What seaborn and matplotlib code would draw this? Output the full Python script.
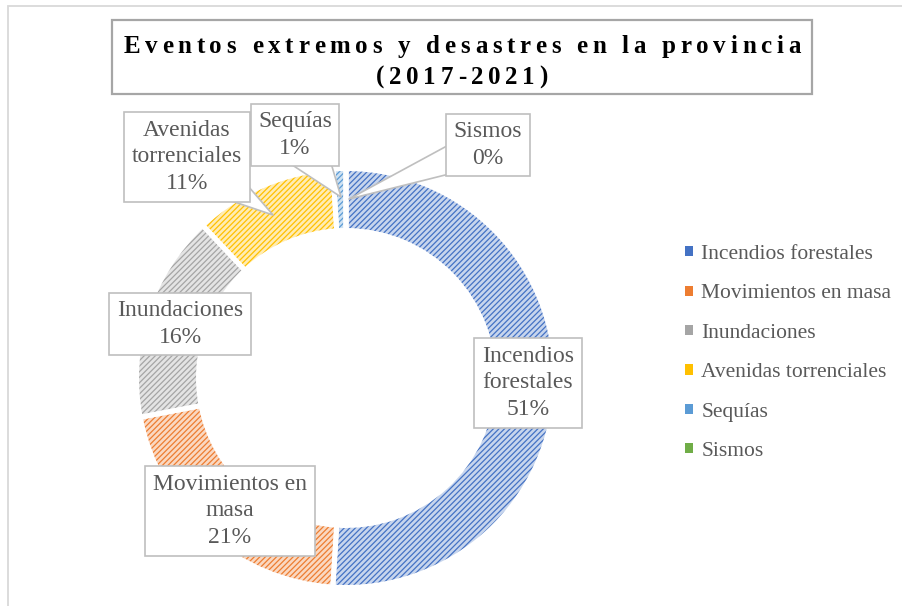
import numpy as np
import matplotlib
matplotlib.use("Agg")
import matplotlib.pyplot as plt
import seaborn as sns
from matplotlib.patches import Rectangle, Patch
from matplotlib.font_manager import FontProperties, findfont, get_font
from matplotlib.colors import to_rgb

# Data
categories = ["Incendios forestales", "Movimientos en masa", "Inundaciones",
              "Avenidas torrenciales", "Sequías", "Sismos"]
percentages = [51, 21, 16, 11, 1, 0]
label_names = ["Incendios\nforestales", "Movimientos en\nmasa", "Inundaciones",
               "Avenidas\ntorrenciales", "Sequías", "Sismos"]
title_lines = ["Eventos extremos y desastres en la provincia", "(2017-2021)"]

sns.set_theme(style="white")
plt.rcParams["font.family"] = ["Liberation Serif", "DejaVu Serif"]
plt.rcParams["hatch.linewidth"] = 0.9

palette = ["#4472C4", "#ED7D31", "#A5A5A5", "#FFC000", "#5B9BD5", "#70AD47"]
text_gray = "#595959"
box_gray = "#BFBFBF"

W, H = 902, 606
fig = plt.figure(figsize=(W / 100, H / 100), dpi=100)
ax = fig.add_axes([0, 0, 1, 1])

# Ring geometry (axes units are pixels)
cx, cy = 346, H - 378
R, ring = 207, 57
gap_lw = 3.6
half_gap = gap_lw * 100 / 72 / 2


def tint(c, f):
    r = np.array(to_rgb(c))
    return tuple(1 - (1 - r) * f)


wedges, _ = ax.pie(percentages, colors=[tint(c, 0.30) for c in palette],
                   startangle=90, counterclock=False, center=(cx, cy),
                   radius=R + half_gap,
                   wedgeprops=dict(width=ring + 2 * half_gap, linewidth=0))
for w, c in zip(wedges, palette):
    w.set_edgecolor(c)
    w.set_hatch("//////")

# white separators between segments
ax.pie(percentages, colors=["none"] * len(percentages),
       startangle=90, counterclock=False, center=(cx, cy),
       radius=R + half_gap,
       wedgeprops=dict(width=ring + 2 * half_gap, linewidth=gap_lw,
                       edgecolor="white", facecolor="none"))

ax.set_xlim(0, W)
ax.set_ylim(0, H)
ax.set_aspect("equal")
ax.axis("off")

# Data labels
label_pos = [(528, H - 383), (230, H - 511), (180, H - 324),
             (187, H - 157), (295, H - 135), (488, H - 145)]
pointers = {3: ((273, H - 215), 2.4), 4: ((341, H - 197), 2.4),
            5: ((349, H - 199), 1.6)}
box = dict(boxstyle="square,pad=0.32", fc="white", ec=box_gray, lw=1.2)
for i, (name, pct) in enumerate(zip(label_names, percentages)):
    txt = f"{name}\n{pct}%"
    if i in pointers:
        tip, tw = pointers[i]
        ax.annotate(txt, xy=tip, xytext=label_pos[i], ha="center", va="center",
                    fontsize=17, color=text_gray, linespacing=1.35, bbox=box,
                    zorder=5,
                    arrowprops=dict(arrowstyle=f"wedge,tail_width={tw},shrink_factor=0.5",
                                    fc="white", ec=box_gray, lw=1.2,
                                    patchA=None, shrinkA=0, shrinkB=0))
    else:
        ax.text(*label_pos[i], txt, ha="center", va="center", fontsize=17,
                color=text_gray, linespacing=1.35, bbox=box, zorder=5)

# Legend
handles = [Patch(facecolor=c, edgecolor="none") for c in palette]
ax.legend(handles, categories, loc="center left",
          bbox_to_anchor=(685 / W, (H - 353) / H), bbox_transform=fig.transFigure,
          frameon=False, fontsize=15.5, handlelength=0.35, handleheight=0.35,
          handletextpad=0.4, labelspacing=0.95, borderpad=0, borderaxespad=0,
          labelcolor=text_gray)

# Title box with letter-spaced bold text
ax.add_patch(Rectangle((112, H - 94), 700, 74, fc="white", ec="#A6A6A6",
                       lw=1.6, zorder=6))


def spaced_text(s, xc, y, size, spacing):
    prop = FontProperties(family=["Liberation Serif"], weight="bold", size=size)
    font = get_font(findfont(prop))
    font.set_size(size, 100)
    advs = [font.load_char(ord(ch)).linearHoriAdvance / 65536 for ch in s]
    total = sum(advs) + spacing * (len(s) - 1)
    x = xc - total / 2
    for ch, a in zip(s, advs):
        if ch != " ":
            ax.text(x, y, ch, fontproperties=prop, ha="left", va="baseline",
                    color="black", zorder=7)
        x += a + spacing


spaced_text(title_lines[0], 462, H - 53, 18, 4.7)
spaced_text(title_lines[1], 462, H - 84, 18, 4.7)

# Chart area border
fig.add_artist(Rectangle((8 / W, -0.1), 1.0, (H - 6) / H + 0.1,
                         transform=fig.transFigure, fill=False,
                         ec="#D9D9D9", lw=1.3))

fig.savefig("out.png", dpi=100)
